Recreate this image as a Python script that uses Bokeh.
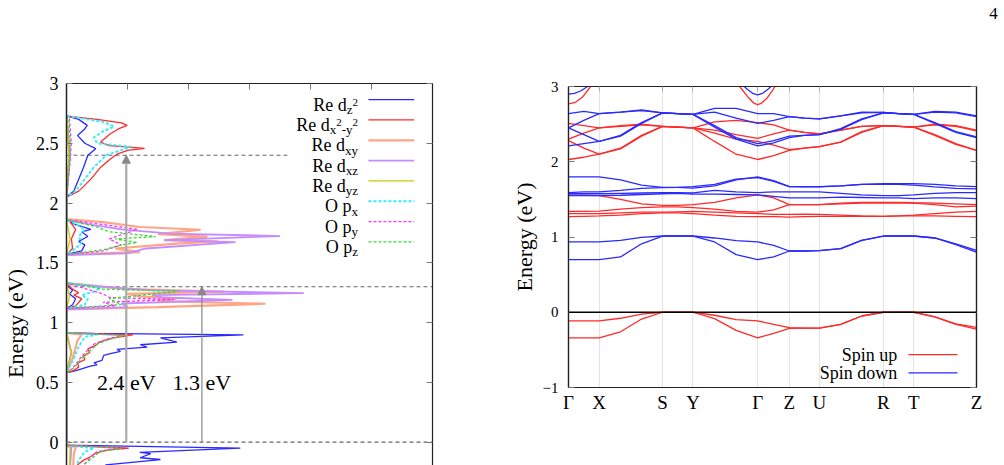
import numpy as np
from bokeh.plotting import figure
from bokeh.layouts import row, column
from bokeh.models import (Range1d, FixedTicker, LinearAxis, Arrow, NormalHead,
                          Span, CustomJSTickFormatter)
from bokeh.embed import file_html
from bokeh.resources import INLINE
from bokeh.core.properties import value

FONT = "Liberation Serif"

# ---------------- DOS data (energy in eV, DOS in arb. units) ----------------
dz2_E = [-0.30, -0.19, -0.145, -0.13, -0.095, -0.085, -0.05, -0.025,
         0.58, 0.60, 0.636, 0.647, 0.664, 0.684, 0.726, 0.74, 0.759, 0.776, 0.795, 0.815, 0.837, 0.851, 0.873, 0.898, 0.91, 0.915,
         1.12, 1.15, 1.20, 1.24, 1.27, 1.30, 1.33,
         1.57, 1.60, 1.65, 1.68, 1.72, 1.76, 1.78, 1.82, 1.86,
         2.05, 2.10, 2.20, 2.30, 2.40, 2.455, 2.50, 2.566, 2.62, 2.65, 2.70, 2.73]
dz2_N = [0.80, 0.64, 1.54, 1.21, 1.38, 1.20, 2.85, 0.0,
         0.0, 0.17, 0.39, 0.50, 0.45, 0.58, 0.61, 0.72, 0.885, 0.83, 1.32, 1.21, 1.81, 1.70, 1.54, 2.90, 0.45, 0.0,
         0.0, 0.10, 0.15, 0.05, 0.10, 0.03, 0.0,
         0.0, 0.25, 0.30, 0.20, 0.35, 0.25, 0.40, 0.15, 0.0,
         0.0, 0.12, 0.20, 0.28, 0.35, 0.48, 0.30, 0.18, 0.30, 0.34, 0.20, 0.0]

dx2y2_E = [-0.30, -0.19, -0.15, -0.12, -0.10, -0.08, -0.065, -0.05, -0.025,
           0.58, 0.60, 0.63, 0.66, 0.69, 0.72, 0.75, 0.78, 0.81, 0.84, 0.87, 0.898, 0.915,
           1.12, 1.14, 1.20, 1.23, 1.25, 1.28, 1.33,
           1.57, 1.62, 1.70, 1.78, 1.85, 1.86,
           2.05, 2.10, 2.20, 2.30, 2.36, 2.41, 2.44, 2.457, 2.48, 2.51, 2.55, 2.58, 2.62, 2.65, 2.67, 2.70, 2.72, 2.73]
dx2y2_N = [0.15, 0.18, 0.28, 0.40, 0.45, 0.55, 0.70, 1.02, 0.0,
           0.0, 0.12, 0.20, 0.18, 0.30, 0.28, 0.38, 0.35, 0.48, 0.55, 0.75, 1.09, 0.0,
           0.0, 0.15, 0.25, 0.12, 0.20, 0.10, 0.0,
           0.0, 0.10, 0.08, 0.15, 0.05, 0.0,
           0.0, 0.20, 0.40, 0.56, 0.70, 0.83, 1.00, 1.28, 0.70, 0.56, 0.65, 0.72, 0.85, 0.995, 0.90, 0.50, 0.12, 0.0]

dxy_E = [-0.30, -0.10, -0.04, -0.025,
         0.58, 0.70, 0.85, 0.90, 0.915,
         1.11, 1.13, 1.158, 1.18, 1.20, 1.22, 1.24, 1.26, 1.28, 1.31, 1.33,
         1.57, 1.59, 1.62, 1.66, 1.679, 1.69, 1.72, 1.74, 1.777, 1.80, 1.84, 1.865,
         2.05, 2.40, 2.73]
dxy_N = [0.10, 0.12, 0.15, 0.0,
         0.0, 0.10, 0.18, 0.25, 0.0,
         0.0, 1.50, 3.26, 1.50, 1.80, 1.20, 1.00, 2.59, 1.00, 0.40, 0.0,
         0.0, 1.20, 0.80, 1.80, 2.47, 1.60, 2.31, 1.50, 2.20, 1.20, 0.60, 0.0,
         0.0, 0.05, 0.0]

dxz_E = [-0.30, -0.04, -0.025,
         0.58, 0.75, 0.915,
         1.11, 1.13, 1.16, 1.19, 1.21, 1.23, 1.247, 1.27, 1.30, 1.33,
         1.565, 1.58, 1.62, 1.673, 1.69, 1.724, 1.745, 1.78, 1.82, 1.86,
         2.05, 2.40, 2.73]
dxz_N = [0.05, 0.08, 0.0,
         0.0, 0.08, 0.0,
         0.0, 1.00, 0.90, 2.72, 1.60, 1.40, 3.89, 1.40, 0.60, 0.0,
         0.0, 1.00, 1.30, 2.77, 1.60, 3.50, 1.70, 0.90, 0.40, 0.0,
         0.0, 0.06, 0.0]

dyz_E = [-0.30, -0.05, -0.025, 0.58, 0.75, 0.915, 1.12, 1.22, 1.33, 1.57, 1.70, 1.86, 2.05, 2.40, 2.73]
dyz_N = [0.05, 0.06, 0.0, 0.0, 0.08, 0.0, 0.0, 0.05, 0.0, 0.0, 0.06, 0.0, 0.0, 0.04, 0.0]

px_E = [-0.30, -0.15, -0.08, -0.05, -0.025,
        0.58, 0.70, 0.80, 0.88, 0.90, 0.915,
        1.12, 1.15, 1.20, 1.23, 1.26, 1.29, 1.31, 1.33,
        1.57, 1.62, 1.67, 1.72, 1.78, 1.84, 1.86,
        2.05, 2.10, 2.20, 2.30, 2.40, 2.47, 2.50, 2.55, 2.60, 2.64, 2.68, 2.72, 2.73]
px_N = [0.10, 0.20, 0.30, 0.45, 0.0,
        0.0, 0.12, 0.20, 0.30, 0.50, 0.0,
        0.0, 0.30, 0.35, 0.25, 0.45, 0.56, 0.30, 0.0,
        0.0, 0.15, 0.25, 0.20, 0.30, 0.10, 0.0,
        0.0, 0.15, 0.30, 0.45, 0.65, 1.05, 0.50, 0.45, 0.60, 0.78, 0.60, 0.10, 0.0]

py_E = [-0.30, -0.18, -0.12, -0.08, -0.05, -0.025,
        0.58, 0.62, 0.67, 0.72, 0.77, 0.82, 0.86, 0.895, 0.915,
        1.12, 1.14, 1.17, 1.193, 1.21, 1.24, 1.27, 1.30, 1.33,
        1.57, 1.60, 1.65, 1.70, 1.78, 1.82, 1.86,
        2.05, 2.30, 2.50, 2.70, 2.73]
py_N = [0.20, 0.30, 0.40, 0.50, 0.83, 0.0,
        0.0, 0.10, 0.18, 0.25, 0.35, 0.45, 0.65, 0.90, 0.0,
        0.0, 0.80, 0.60, 1.76, 0.70, 0.60, 0.40, 0.20, 0.0,
        0.0, 0.60, 0.90, 0.70, 1.16, 0.60, 0.0,
        0.0, 0.05, 0.08, 0.05, 0.0]

pz_E = [-0.30, -0.18, -0.12, -0.08, -0.05, -0.025,
        0.58, 0.62, 0.67, 0.72, 0.77, 0.82, 0.86, 0.893, 0.915,
        1.12, 1.15, 1.20, 1.263, 1.28, 1.31, 1.33,
        1.57, 1.61, 1.65, 1.67, 1.70, 1.72, 1.76, 1.80, 1.86,
        2.05, 2.30, 2.50, 2.70, 2.73]
pz_N = [0.20, 0.30, 0.45, 0.55, 0.90, 0.0,
        0.0, 0.12, 0.20, 0.28, 0.40, 0.50, 0.70, 0.95, 0.0,
        0.0, 0.90, 0.70, 1.84, 0.60, 0.30, 0.0,
        0.0, 0.60, 0.90, 1.16, 0.80, 1.46, 0.70, 0.50, 0.0,
        0.0, 0.04, 0.06, 0.04, 0.0]

dos_yticks = [0.0, 0.5, 1.0, 1.5, 2.0, 2.5, 3.0]
dos_ytick_labels = ["0", "0.5", "1", "1.5", "2", "2.5", "3"]
dos_xticks = [0, 1, 2, 3, 4, 5, 6]

gap_levels = [2.4, 1.3, 0.0]
gap_line_end = [3.62, 6.0, 6.0]
arrow_x = [0.98, 2.22]
arrow_top = [2.4, 1.3]
gap_labels = ["2.4 eV", "1.3 eV"]
gap_label_E = [0.50, 0.50]

# ---------------- band structure data ----------------
sym_k = [0.0, 0.307, 0.94, 1.244, 1.89, 2.207, 2.507, 3.147, 3.45, 4.077]
sym_labels = ["Γ", "X", "S", "Y", "Γ", "Z", "U", "R", "T", "Z"]
kgrid = [0.0, 0.153, 0.307, 0.52, 0.73, 0.94, 1.09, 1.244, 1.46, 1.675, 1.89, 2.05, 2.207,
         2.357, 2.507, 2.72, 2.93, 3.147, 3.30, 3.45, 3.66, 3.87, 4.077]

# spin up (red)
up_v1 = [-0.115, -0.115, -0.115, -0.08, -0.025, 0.0, 0.0, 0.0, -0.04, -0.097, -0.115, -0.16, -0.205,
         -0.21, -0.21, -0.16, -0.05, 0.0, 0.0, 0.0, -0.06, -0.155, -0.20]
up_v2 = [-0.34, -0.34, -0.34, -0.26, -0.09, 0.0, 0.0, 0.0, -0.085, -0.24, -0.34, -0.28, -0.215,
         -0.21, -0.21, -0.16, -0.05, 0.0, 0.0, 0.0, -0.06, -0.16, -0.225]
up_m1 = [1.555, 1.555, 1.55, 1.50, 1.44, 1.42, 1.42, 1.43, 1.46, 1.52, 1.56, 1.52, 1.43,
         1.43, 1.43, 1.45, 1.46, 1.46, 1.46, 1.455, 1.45, 1.44, 1.43]
up_m2 = [1.34, 1.34, 1.345, 1.37, 1.39, 1.40, 1.40, 1.39, 1.37, 1.34, 1.33, 1.36, 1.43,
         1.43, 1.43, 1.44, 1.45, 1.455, 1.45, 1.45, 1.43, 1.40, 1.41]
up_m3 = [1.31, 1.31, 1.31, 1.32, 1.33, 1.33, 1.335, 1.34, 1.33, 1.32, 1.31, 1.30, 1.30,
         1.305, 1.30, 1.29, 1.28, 1.275, 1.28, 1.29, 1.31, 1.33, 1.34]
up_m4 = [1.27, 1.275, 1.28, 1.29, 1.31, 1.32, 1.32, 1.31, 1.29, 1.275, 1.27, 1.27, 1.265,
         1.27, 1.275, 1.275, 1.275, 1.275, 1.28, 1.28, 1.28, 1.275, 1.27]
up_u1 = [2.51, 2.48, 2.45, 2.48, 2.50, 2.47, 2.46, 2.45, 2.53, 2.55, 2.52, 2.49, 2.42,
         2.39, 2.37, 2.42, 2.47, 2.48, 2.47, 2.46, 2.50, 2.48, 2.42]
up_u2 = [2.30, 2.38, 2.45, 2.47, 2.49, 2.47, 2.46, 2.45, 2.42, 2.36, 2.31, 2.37, 2.42,
         2.39, 2.37, 2.42, 2.47, 2.48, 2.47, 2.46, 2.49, 2.47, 2.41]
up_u3 = [2.28, 2.18, 2.10, 2.18, 2.35, 2.47, 2.46, 2.45, 2.38, 2.30, 2.27, 2.22, 2.16,
         2.18, 2.20, 2.26, 2.40, 2.48, 2.47, 2.46, 2.36, 2.24, 2.15]
up_u4 = [2.03, 2.06, 2.10, 2.17, 2.34, 2.47, 2.46, 2.45, 2.27, 2.10, 2.03, 2.08, 2.15,
         2.18, 2.20, 2.26, 2.39, 2.48, 2.47, 2.46, 2.35, 2.23, 2.15]

# spin down (blue)
dn_c1 = [0.934, 0.934, 0.934, 0.956, 0.996, 1.013, 1.013, 1.013, 0.987, 0.952, 0.934, 0.89, 0.814,
         0.814, 0.82, 0.845, 0.956, 1.013, 1.013, 1.013, 0.987, 0.91, 0.823]
dn_c2 = [0.70, 0.70, 0.70, 0.735, 0.91, 1.013, 1.013, 1.013, 0.934, 0.766, 0.70, 0.735, 0.814,
         0.814, 0.82, 0.845, 0.956, 1.013, 1.013, 1.013, 0.987, 0.90, 0.80]
dn_m1 = [1.80, 1.80, 1.80, 1.76, 1.69, 1.66, 1.66, 1.65, 1.68, 1.76, 1.80, 1.75, 1.67,
         1.67, 1.67, 1.68, 1.70, 1.71, 1.71, 1.71, 1.70, 1.68, 1.67]
dn_m2 = [1.59, 1.60, 1.60, 1.62, 1.645, 1.655, 1.66, 1.67, 1.70, 1.77, 1.79, 1.74, 1.67,
         1.665, 1.665, 1.68, 1.70, 1.70, 1.70, 1.69, 1.665, 1.645, 1.64]
dn_m3 = [1.575, 1.575, 1.575, 1.58, 1.585, 1.59, 1.59, 1.585, 1.62, 1.60, 1.59, 1.60, 1.60,
         1.60, 1.60, 1.58, 1.56, 1.55, 1.55, 1.56, 1.58, 1.59, 1.59]
dn_m4 = [1.55, 1.55, 1.55, 1.555, 1.565, 1.575, 1.58, 1.57, 1.57, 1.565, 1.56, 1.54, 1.52,
         1.52, 1.52, 1.53, 1.525, 1.52, 1.52, 1.51, 1.52, 1.52, 1.51]
dn_u1 = [2.64, 2.67, 2.64, 2.66, 2.69, 2.65, 2.64, 2.63, 2.71, 2.71, 2.64, 2.64, 2.60,
         2.58, 2.57, 2.61, 2.66, 2.655, 2.64, 2.63, 2.67, 2.66, 2.61]
dn_u2 = [2.45, 2.55, 2.64, 2.66, 2.68, 2.65, 2.64, 2.63, 2.66, 2.58, 2.51, 2.55, 2.60,
         2.58, 2.57, 2.61, 2.65, 2.655, 2.64, 2.63, 2.66, 2.65, 2.60]
dn_u3 = [2.45, 2.36, 2.27, 2.35, 2.52, 2.65, 2.64, 2.63, 2.48, 2.32, 2.24, 2.28, 2.34,
         2.35, 2.36, 2.44, 2.57, 2.65, 2.64, 2.63, 2.52, 2.40, 2.33]
dn_u4 = [2.21, 2.24, 2.27, 2.34, 2.51, 2.65, 2.64, 2.63, 2.46, 2.30, 2.21, 2.25, 2.32,
         2.35, 2.36, 2.43, 2.56, 2.65, 2.64, 2.63, 2.51, 2.39, 2.32]

# bands near Gamma that leave the window above 3 eV
top_up_k1 = [0.0, 0.07, 0.14, 0.21, 0.28]
top_up_E1 = [2.77, 2.79, 2.86, 2.98, 3.12]
top_dn_k1 = [0.0, 0.06, 0.12, 0.18, 0.24]
top_dn_E1 = [2.90, 2.91, 2.94, 2.99, 3.06]
top_up_k2 = [1.68, 1.74, 1.80, 1.85, 1.89, 1.93, 1.98, 2.04, 2.10]
top_up_E2 = [3.05, 2.95, 2.85, 2.78, 2.76, 2.78, 2.84, 2.95, 3.08]
top_dn_k2 = [1.72, 1.78, 1.84, 1.89, 1.94, 2.00, 2.06]
top_dn_E2 = [3.05, 2.97, 2.91, 2.89, 2.91, 2.97, 3.05]

RED = "#ff2a2a"
BLUE = "#2a2aff"


def blank_fmt():
    return CustomJSTickFormatter(code="return ''")


def style_axis(ax, tick_len=6, line_w=1.2):
    ax.major_tick_in = tick_len
    ax.major_tick_out = 0
    ax.minor_tick_in = 0
    ax.minor_tick_out = 0
    ax.axis_line_color = "#222222"
    ax.axis_line_width = line_w
    ax.major_tick_line_color = "#777777"
    ax.major_label_text_font = FONT
    ax.major_label_text_color = "black"
    ax.axis_label_text_font = FONT
    ax.axis_label_text_font_style = "normal"
    ax.axis_label_text_color = "black"


def bare(fig):
    fig.outline_line_color = None
    fig.grid.visible = False
    fig.frame_align = False
    return fig


# ======================= far left: rotated axis title =======================
p0 = bare(figure(width=30, height=465, x_range=Range1d(0, 30), y_range=Range1d(0, 465),
                 output_backend="svg", toolbar_location=None, x_axis_location=None,
                 y_axis_location=None, min_border=0))
p0.text(x=[15], y=[142], text=["Energy (eV)"], angle=90, angle_units="deg",
        text_font=value(FONT), text_font_size="22px", text_align="center",
        text_baseline="middle", text_color="black")

# ======================= left: DOS =======================
p1 = bare(figure(width=440, height=465, x_range=Range1d(0, 6), y_range=Range1d(-0.195, 3.0),
                 output_backend="svg", toolbar_location=None, x_axis_location=None,
                 min_border_left=36, min_border_right=38, min_border_top=83, min_border_bottom=0))

ay = p1.yaxis[0]
ay.ticker = FixedTicker(ticks=dos_yticks, minor_ticks=[])
ay.major_label_overrides = {t: lab for t, lab in zip(dos_yticks, dos_ytick_labels)}
style_axis(ay, line_w=1.5)
ay.major_label_text_font_size = "18px"
ay.major_label_standoff = 8

ar = LinearAxis(ticker=FixedTicker(ticks=dos_yticks, minor_ticks=[]), formatter=blank_fmt())
style_axis(ar)
p1.add_layout(ar, "right")
at = LinearAxis(ticker=FixedTicker(ticks=dos_xticks, minor_ticks=[]), formatter=blank_fmt())
style_axis(at)
p1.add_layout(at, "above")

for lev, xe in zip(gap_levels, gap_line_end):
    p1.line([0, xe], [lev, lev], line_color="#666666", line_width=1.2, line_dash="4 3")

dos_series = [
    (dz2_N, dz2_E, "#2a2aff", 1.3, "solid"),
    (dx2y2_N, dx2y2_E, "#ff2a2a", 1.3, "solid"),
    (dxy_N, dxy_E, "#ffa585", 2.2, "solid"),
    (dxz_N, dxz_E, "#c58cff", 1.8, "solid"),
    (dyz_N, dyz_E, "#c8c800", 1.3, "solid"),
    (px_N, px_E, "#33eeff", 2.0, "3 2"),
    (py_N, py_E, "#ff33ff", 1.3, "3 2"),
    (pz_N, pz_E, "#33dd33", 1.3, "3 2"),
]
for n, e, c, w, d in dos_series:
    p1.line(n, e, line_color=c, line_width=w, line_dash=d)

arrow_cols = ["#aaaaaa", "#888888"]
arrow_w = [2.2, 1.2]
for xa, top, c, w in zip(arrow_x, arrow_top, arrow_cols, arrow_w):
    p1.add_layout(Arrow(x_start=xa, y_start=0, x_end=xa, y_end=top, line_color=c, line_width=w,
                        end=NormalHead(size=8, fill_color="#888888", line_color="#888888")))
p1.text(x=arrow_x, y=gap_label_E, text=gap_labels, text_font=value(FONT), text_font_size="22px",
        text_align="center", text_baseline="middle", text_color="black")

# legend (gnuplot-like: label right-aligned left of the sample line)
W = {'R': 0.667, 'e': 0.444, ' ': 0.25, 'd': 0.5, 'O': 0.722, 'p': 0.5, 'x': 0.5,
     'y': 0.5, 'z': 0.444, '2': 0.5, '-': 0.333}
LV_SIZE = {0: 18, 1: 13, 2: 11}
LV_DY = {0: 5, 1: 10, 2: 3}
legend_parts = [
    [("Re d", 0), ("z", 1), ("2", 2)],
    [("Re d", 0), ("x", 1), ("2", 2), ("-y", 1), ("2", 2)],
    [("Re d", 0), ("xy", 1)],
    [("Re d", 0), ("xz", 1)],
    [("Re d", 0), ("yz", 1)],
    [("O p", 0), ("x", 1)],
    [("O p", 0), ("y", 1)],
    [("O p", 0), ("z", 1)],
]
leg_xr = 4.78
leg_x0, leg_x1 = 4.95, 5.70
leg_y0, leg_dy = 2.865, 0.170
lv = {l: dict(x=[], y=[], t=[], xo=[], yo=[]) for l in (0, 1, 2)}
for i, parts in enumerate(legend_parts):
    yy = leg_y0 - i * leg_dy
    widths = [sum(W[ch] for ch in txt) * LV_SIZE[l] for txt, l in parts]
    cur = -sum(widths)
    for (txt, l), wd in zip(parts, widths):
        d = lv[l]
        d["x"].append(leg_xr); d["y"].append(yy); d["t"].append(txt)
        d["xo"].append(cur); d["yo"].append(LV_DY[l])
        cur += wd
    n, e, c, w, dsh = dos_series[i]
    p1.line([leg_x0, leg_x1], [yy, yy], line_color=c, line_width=w, line_dash=dsh)
for l, d in lv.items():
    p1.text(x=d["x"], y=d["y"], text=d["t"], x_offset=d["xo"], y_offset=d["yo"],
            text_font=value(FONT), text_font_size=f"{LV_SIZE[l]}px", text_align="left",
            text_baseline="alphabetic", text_color="black")

# ======================= page number strip =======================
p4 = bare(figure(width=534, height=40, x_range=Range1d(0, 534), y_range=Range1d(0, 40),
                 output_backend="svg", toolbar_location=None, x_axis_location=None,
                 y_axis_location=None, min_border=0))
p4.text(x=[523], y=[27], text=["4"], text_font=value(FONT), text_font_size="17px",
        text_align="center", text_baseline="middle", text_color="black")

# ======================= right: bands =======================
p2 = figure(width=534, height=425, x_range=Range1d(0, sym_k[-1]), y_range=Range1d(-1, 3),
            output_backend="svg", toolbar_location=None,
            min_border_left=98, min_border_right=28, min_border_top=46, min_border_bottom=78)
p2.frame_align = False
p2.outline_line_color = "#111111"
p2.outline_line_width = 1.2
p2.ygrid.visible = False
p2.xgrid.ticker = FixedTicker(ticks=sym_k, minor_ticks=[])
p2.xgrid.grid_line_color = "#e4e4e4"
p2.xgrid.grid_line_width = 1.2

bx = p2.xaxis[0]
bx.ticker = FixedTicker(ticks=sym_k, minor_ticks=[])
bx.major_label_overrides = {k: lab for k, lab in zip(sym_k, sym_labels)}
style_axis(bx, tick_len=0)
bx.major_label_text_font_size = "19px"
bx.major_label_standoff = 4

by = p2.yaxis[0]
by.ticker = FixedTicker(ticks=[-1, 0, 1, 2, 3], minor_ticks=[])
style_axis(by)
by.major_label_text_font_size = "15px"
by.major_label_standoff = 10
by.axis_label = "Energy (eV)"
by.axis_label_text_font_size = "22px"
by.axis_label_standoff = 3

br = LinearAxis(ticker=FixedTicker(ticks=[-1, 0, 1, 2, 3], minor_ticks=[]), formatter=blank_fmt())
style_axis(br)
p2.add_layout(br, "right")
bt = LinearAxis(ticker=FixedTicker(ticks=sym_k, minor_ticks=[]), formatter=blank_fmt())
style_axis(bt, tick_len=5)
bt.major_tick_line_color = "#aaaaaa"
p2.add_layout(bt, "above")

p2.add_layout(Span(location=0, dimension="width", line_color="black", line_width=1.3))

for b in [up_v1, up_v2, up_m1, up_m2, up_m3, up_m4, up_u1, up_u2, up_u3, up_u4]:
    p2.line(kgrid, b, line_color=RED, line_width=1.3)
for b in [dn_c1, dn_c2, dn_m1, dn_m2, dn_m3, dn_m4, dn_u1, dn_u2, dn_u3, dn_u4]:
    p2.line(kgrid, b, line_color=BLUE, line_width=1.3)
p2.line(top_up_k1, top_up_E1, line_color=RED, line_width=1.3)
p2.line(top_up_k2, top_up_E2, line_color=RED, line_width=1.3)
p2.line(top_dn_k1, top_dn_E1, line_color=BLUE, line_width=1.3)
p2.line(top_dn_k2, top_dn_E2, line_color=BLUE, line_width=1.3)

spin_labels = ["Spin up", "Spin down"]
spin_colors = [RED, BLUE]
spin_y = [-0.562, -0.806]
p2.text(x=[3.284, 3.284], y=spin_y, text=spin_labels, text_font=value(FONT),
        text_font_size="18px", text_align="right", text_baseline="middle", text_color="black")
for yy, c in zip(spin_y, spin_colors):
    p2.line([3.397, 3.887], [yy, yy], line_color=c, line_width=1.3)

layout = row(p0, p1, column(p4, p2))
open("out.html", "w").write(file_html(layout, INLINE))
